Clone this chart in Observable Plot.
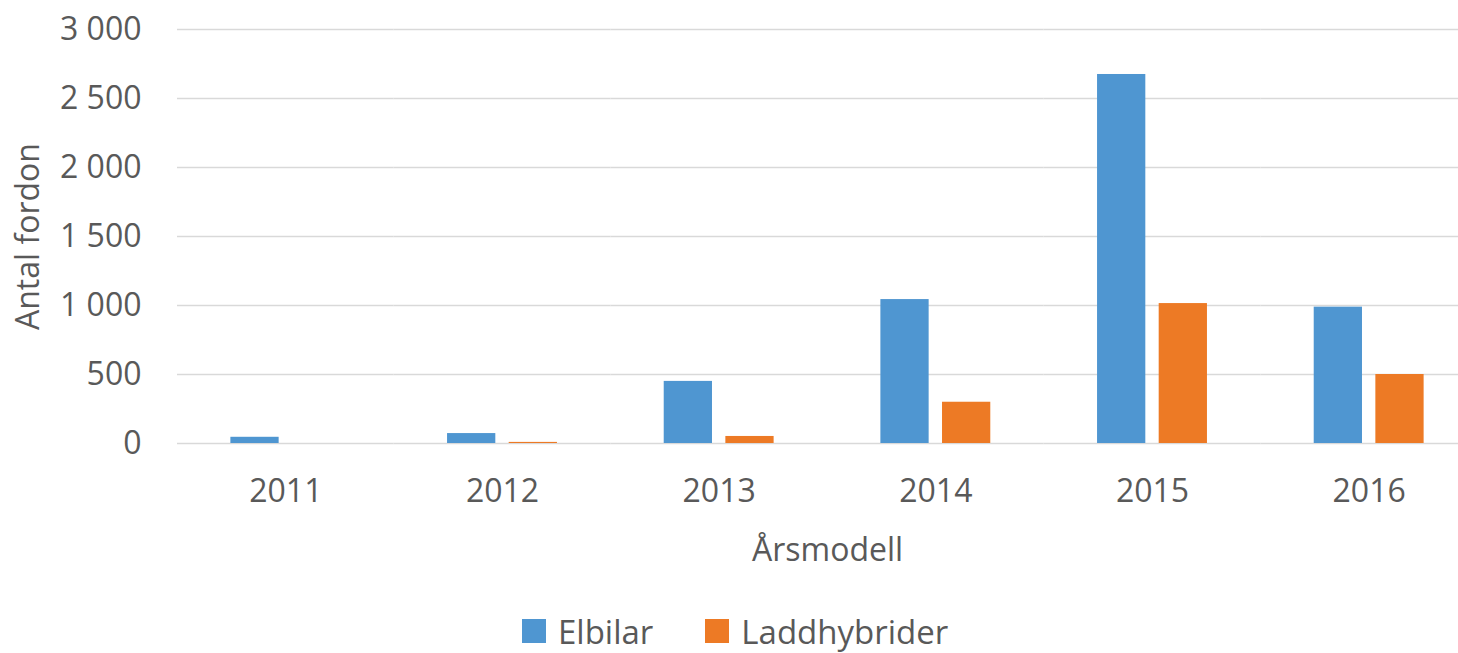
<!DOCTYPE html>
<html>
<head>
<meta charset="utf-8">
<script src="https://cdn.jsdelivr.net/npm/d3@7"></script>
<script src="https://cdn.jsdelivr.net/npm/@observablehq/plot@0.6"></script>
<style>
  html, body { margin: 0; padding: 0; background: #fff; overflow: hidden; }
  #chart svg { display: block; }
  #legend { height: 42px; display: flex; align-items: center; justify-content: flex-start; padding-left: 522px;
    font-family: "Open Sans", sans-serif; font-size: 33px; line-height: 1; color: #595959; }
  .item { display: flex; align-items: center; }
  .item span { line-height: 1; }
  .sw { width: 24px; height: 24px; margin-right: 12px; flex: none; }
</style>
</head>
<body>
<div id="chart"></div>
<div id="legend"></div>
<script>
const years = ["2011", "2012", "2013", "2014", "2015", "2016"];
const series = ["Elbilar", "Laddhybrider"];
const elbilar = [45, 72, 450, 1043, 2674, 988];
const laddhybrider = [0, 8, 51, 299, 1014, 500];
const colors = ["#4f96d1", "#ed7a25"];
const yTicks = [0, 500, 1000, 1500, 2000, 2500, 3000];

const data = years.flatMap((y, i) => [
  {year: y, series: series[0], value: elbilar[i]},
  {year: y, series: series[1], value: laddhybrider[i]}
]);

const fmt = d => d3.format(",")(d).replace(/,/g, " ");

const chart = Plot.plot({
  width: 1458,
  height: 610,
  marginLeft: 177,
  marginRight: -19,
  marginTop: 29,
  marginBottom: 167,
  style: {fontFamily: "Open Sans, sans-serif", fontSize: "32px", color: "#595959", background: "#fff"},
  fx: {domain: years, padding: 0, round: false},
  x: {domain: series, paddingInner: 0.217, paddingOuter: 0.866, round: false, axis: null},
  y: {domain: [0, 3000]},
  color: {domain: series, range: colors},
  marks: [
    Plot.gridY(yTicks, {stroke: "#d9d9d9", strokeOpacity: 1, strokeWidth: 1.5}),
    Plot.barY(data, {fx: "year", x: "series", y: "value", fill: "series"}),
    Plot.axisY(yTicks, {tickSize: 0, tickPadding: 36, tickFormat: fmt, fontSize: 32,
      label: "Antal fordon", labelAnchor: "center", labelOffset: 161, labelArrow: "none"}),
    Plot.axisFx({anchor: "bottom", tickSize: 0, tickPadding: 36, fontSize: 32,
      label: "Årsmodell", labelAnchor: "center", labelOffset: 117, labelArrow: "none"})
  ]
});
document.getElementById("chart").appendChild(chart);

const legend = document.getElementById("legend");
series.forEach((s, i) => {
  const item = document.createElement("div");
  item.className = "item";
  if (i > 0) item.style.marginLeft = "52px";
  const sw = document.createElement("div");
  sw.className = "sw";
  sw.style.background = colors[i];
  const t = document.createElement("span");
  t.textContent = s;
  item.appendChild(sw);
  item.appendChild(t);
  legend.appendChild(item);
});
</script>
</body>
</html>
